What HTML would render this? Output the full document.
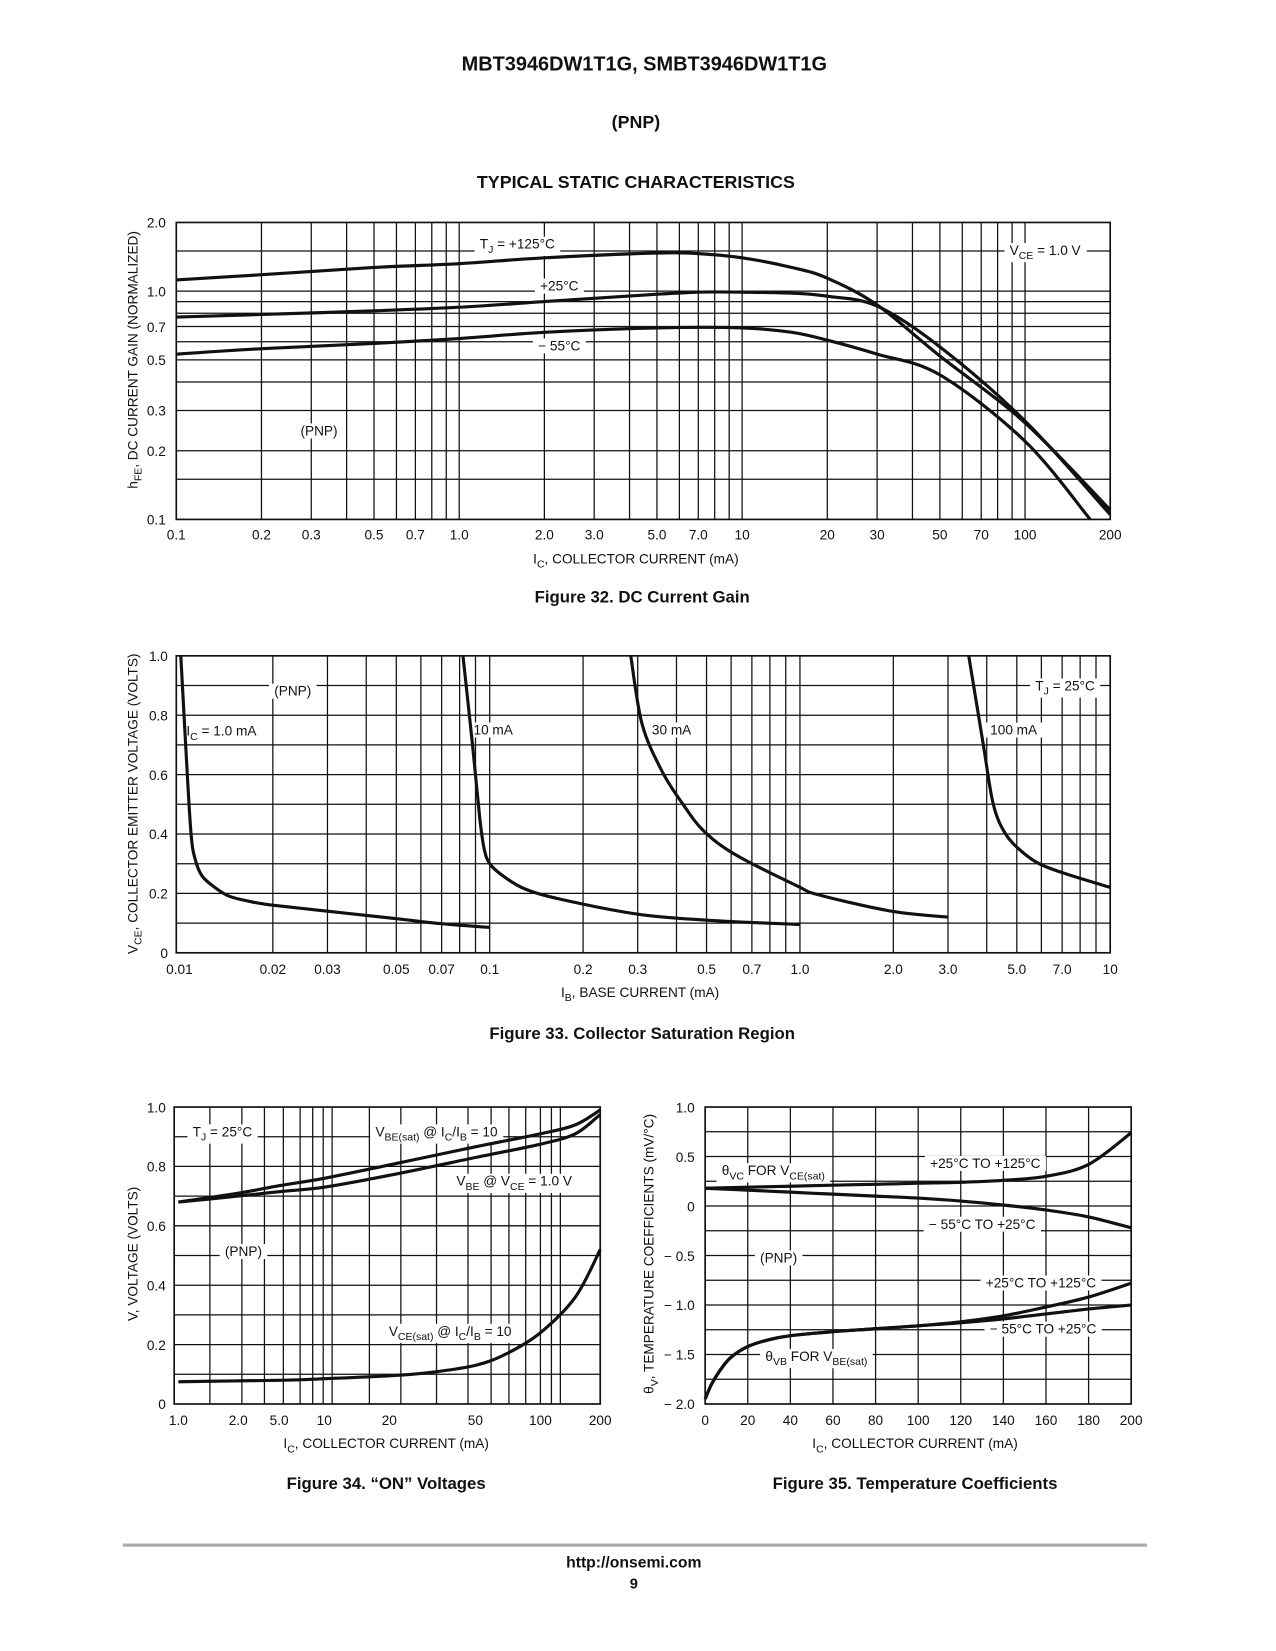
<!DOCTYPE html>
<html><head><meta charset="utf-8"><style>
html,body{margin:0;padding:0;background:#fff;}
svg{display:block;font-family:"Liberation Sans",sans-serif;}
.t{font-family:"Liberation Sans Narrow","Liberation Sans",sans-serif;font-size:13px;fill:#111;}
.b{font-weight:bold;fill:#111;}
</style></head><body>
<svg id="pg" width="1276" height="1651" viewBox="0 0 1216 1573.4" preserveAspectRatio="none">
<text class="b" x="614" y="67" text-anchor="middle" font-size="19">MBT3946DW1T1G, SMBT3946DW1T1G</text>
<text class="b" x="606" y="122" text-anchor="middle" font-size="17">(PNP)</text>
<text class="b" x="606" y="179" text-anchor="middle" font-size="17">TYPICAL STATIC CHARACTERISTICS</text>
<text class="b" x="612" y="574" text-anchor="middle" font-size="16">Figure 32. DC Current Gain</text>
<text class="b" x="612" y="990" text-anchor="middle" font-size="16">Figure 33. Collector Saturation Region</text>
<text class="b" x="368" y="1419" text-anchor="middle" font-size="16">Figure 34. “ON” Voltages</text>
<text class="b" x="872" y="1419" text-anchor="middle" font-size="16">Figure 35. Temperature Coefficients</text>
<rect x="117" y="1471" width="976" height="3" fill="#aaa"/>
<text class="b" x="604" y="1494" text-anchor="middle" font-size="15">http://onsemi.com</text>
<text class="b" x="604" y="1514" text-anchor="middle" font-size="14">9</text>
</svg>
<script>
// ---------- Figure 32 data ----------
const f32Ticks = [0.1,0.2,0.3,0.5,0.7,1.0,2.0,3.0,5.0,7.0,10,20,30,50,70,100,200];
const f32TickLabels = ["0.1","0.2","0.3","0.5","0.7","1.0","2.0","3.0","5.0","7.0","10","20","30","50","70","100","200"];
const f32YTicks = [2.0,1.0,0.7,0.5,0.3,0.2,0.1];
const f32YTickLabels = ["2.0","1.0","0.7","0.5","0.3","0.2","0.1"];
const f32YGrid = [0.15,0.2,0.3,0.4,0.5,0.6,0.7,0.8,0.9,1.0,1.5];
const f32Ic = [0.1,0.2,0.5,1,2,5,7,10,15,20,30,50,100,200];
const f32T125 = [1.12,1.18,1.27,1.32,1.40,1.47,1.46,1.40,1.27,1.14,0.87,0.52,0.265,0.11];
const f32T25 = [0.77,0.79,0.82,0.85,0.90,0.97,0.99,0.99,0.98,0.95,0.86,0.57,0.27,0.105];
const f32Ic55 = [0.1,0.2,0.5,1,2,5,10,15,20,30,50,100,170];
const f32T55 = [0.53,0.56,0.59,0.62,0.66,0.69,0.69,0.66,0.61,0.53,0.43,0.22,0.1];

// ---------- Figure 33 data ----------
const f33Ticks = [0.01,0.02,0.03,0.05,0.07,0.1,0.2,0.3,0.5,0.7,1.0,2.0,3.0,5.0,7.0,10];
const f33TickLabels = ["0.01","0.02","0.03","0.05","0.07","0.1","0.2","0.3","0.5","0.7","1.0","2.0","3.0","5.0","7.0","10"];
const f33YTicks = [1.0,0.8,0.6,0.4,0.2,0];
const f33YTickLabels = ["1.0","0.8","0.6","0.4","0.2","0"];
const f33Ib1 = [0.0101,0.0106,0.0109,0.0112,0.0118,0.013,0.0145,0.017,0.02,0.03,0.05,0.07,0.1];
const f33V1 = [1.0,0.6,0.4,0.32,0.26,0.22,0.19,0.172,0.16,0.14,0.115,0.098,0.085];
const f33Ib10 = [0.082,0.088,0.093,0.096,0.1,0.11,0.13,0.17,0.3,0.5,1.0];
const f33V10 = [1.0,0.7,0.45,0.35,0.3,0.26,0.215,0.18,0.13,0.11,0.095];
const f33Ib30 = [0.285,0.31,0.36,0.42,0.49,0.62,0.98,1.15,1.97,3.0];
const f33V30 = [1.0,0.77,0.61,0.5,0.41,0.33,0.225,0.195,0.14,0.12];
const f33Ib100 = [3.5,3.9,4.2,4.6,5.2,5.9,7,10];
const f33V100 = [1.0,0.7,0.5,0.4,0.34,0.3,0.27,0.22];

// ---------- Figure 34 data ----------
const f34Ticks = [1,2,5,10,20,50,100,200];
const f34TickLabels = ["1.0","2.0","5.0","10","20","50","100","200"];
const f34YTicks = [1.0,0.8,0.6,0.4,0.2,0];
const f34YTickLabels = ["1.0","0.8","0.6","0.4","0.2","0"];
const f34Ic = [1,2,5,10,20,50,100,150,200];
const f34VbeSat = [0.68,0.71,0.735,0.76,0.805,0.866,0.91,0.94,0.99];
const f34Vbe = [0.68,0.70,0.715,0.73,0.77,0.83,0.875,0.91,0.975];
const f34IcS = [1,5,10,20,30,50,70,100,150,200];
const f34VceSat = [0.075,0.08,0.085,0.095,0.105,0.13,0.17,0.24,0.36,0.52];

// ---------- Figure 35 data ----------
const f35Ticks = [0,20,40,60,80,100,120,140,160,180,200];
const f35TickLabels = ["0","20","40","60","80","100","120","140","160","180","200"];
const f35YTicks = [1.0,0.5,0,-0.5,-1.0,-1.5,-2.0];
const f35YTickLabels = ["1.0","0.5","0","− 0.5","− 1.0","− 1.5","− 2.0"];
const f35Ic = [0,20,40,60,80,100,120,140,160,180,200];
const f35VcHot = [0.18,0.19,0.2,0.21,0.22,0.23,0.24,0.26,0.3,0.42,0.74];
const f35VcCold = [0.18,0.16,0.14,0.12,0.1,0.08,0.05,0.01,-0.04,-0.11,-0.22];
const f35IcB = [0,3,7,12,20,30,40,60,80,100,120,140,160,180,200];
const f35VbHot = [-1.95,-1.8,-1.66,-1.53,-1.42,-1.35,-1.31,-1.27,-1.24,-1.21,-1.17,-1.11,-1.02,-0.92,-0.78];
const f35VbCold = [-1.95,-1.8,-1.66,-1.53,-1.42,-1.35,-1.31,-1.27,-1.24,-1.21,-1.18,-1.14,-1.09,-1.04,-1.0];

const NS="http://www.w3.org/2000/svg";
const pg=document.getElementById('pg');
function mk(tag,attrs,parent){const e=document.createElementNS(NS,tag);for(const k in attrs)e.setAttribute(k,attrs[k]);(parent||pg).appendChild(e);return e;}
function logS(d0,d1,p0,p1){const a=Math.log10(d0),b=Math.log10(d1);return v=>p0+(Math.log10(v)-a)/(b-a)*(p1-p0);}
function linS(d0,d1,p0,p1){return v=>p0+(v-d0)/(d1-d0)*(p1-p0);}
function pwLog(vals,px){return v=>{const l=Math.log10(v);for(let i=0;i<vals.length-1;i++){const a=Math.log10(vals[i]),b=Math.log10(vals[i+1]);if(l<=b||i===vals.length-2){return px[i]+(l-a)/(b-a)*(px[i+1]-px[i]);}}};}
function smooth(pts){let d="M"+pts[0][0].toFixed(1)+","+pts[0][1].toFixed(1);for(let i=0;i<pts.length-1;i++){const p0=pts[i-1]||pts[i],p1=pts[i],p2=pts[i+1],p3=pts[i+2]||p2;const c1=[p1[0]+(p2[0]-p0[0])/6,p1[1]+(p2[1]-p0[1])/6],c2=[p2[0]-(p3[0]-p1[0])/6,p2[1]-(p3[1]-p1[1])/6];d+="C"+c1[0].toFixed(1)+","+c1[1].toFixed(1)+" "+c2[0].toFixed(1)+","+c2[1].toFixed(1)+" "+p2[0].toFixed(1)+","+p2[1].toFixed(1);}return d;}
function curve(g,xs,ys,sx,sy,name){const pts=xs.map((x,i)=>[sx(x),sy(ys[i])]);const p=mk('path',{d:smooth(pts),fill:'none',stroke:'#111','stroke-width':3,'stroke-linejoin':'round'},g);


return p;}
function vline(g,x,y0,y1){const l=mk('line',{x1:x,x2:x,y1:y0,y2:y1,stroke:'#111','stroke-width':1.2},g);

}
function hline(g,y,x0,x1){const l=mk('line',{x1:x0,x2:x1,y1:y,y2:y,stroke:'#111','stroke-width':1.2},g);

}
function txt(g,x,y,html,anchor,name,size){const t=mk('text',{x:x,y:y,'text-anchor':anchor||'middle',class:'t'},g);if(size)t.setAttribute('font-size',size);t.innerHTML=html;


return t;}
function boxed(g,x,y,html,name){const t=txt(g,x,y,html,'middle',name);const bb=t.getBBox();const r=mk('rect',{x:bb.x-5,y:bb.y,width:bb.width+10,height:bb.height,fill:'#fff'},g);


g.insertBefore(r,t);return t;}
function frame(g,x0,y0,x1,y1){const r=mk('rect',{x:x0,y:y0,width:x1-x0,height:y1-y0,fill:'none',stroke:'#111','stroke-width':1.6},g);

}
function group(name){const g=mk('g',{});


return g;}
const sub=s=>'<tspan font-size="10" dy="4">'+s+'</tspan><tspan dy="-4">\u200B</tspan>';

// ===== Figure 32 =====
(function(){const g=group('figure-32-chart');const X0=168,X1=1058,Y0=212,Y1=495;
const sx=logS(0.1,200,X0,X1),sy=logS(0.1,2.0,Y1,Y0);
[0.1,1,10,100].forEach(d=>{for(let m=1;m<10;m++){const v=d*m;if(v>0.1&&v<200)vline(g,sx(v),Y0,Y1);}});
f32YGrid.forEach(v=>hline(g,sy(v),X0,X1));
frame(g,X0,Y0,X1,Y1);
f32Ticks.forEach((v,i)=>txt(g,sx(v),514,f32TickLabels[i],'middle','x-tick-label'));
f32YTicks.forEach((v,i)=>txt(g,158,sy(v)+5,f32YTickLabels[i],'end','y-tick-label'));
boxed(g,493,237,'T'+sub('J')+' = +125°C','label-125c');
boxed(g,533,277,'+25°C','label-25c');
boxed(g,533,334,'− 55°C','label-minus55c');
boxed(g,996,243,'V'+sub('CE')+' = 1.0 V','label-vce');
boxed(g,304,415,'(PNP)','label-pnp');
curve(g,f32Ic,f32T125,sx,sy,'curve-125c');
curve(g,f32Ic,f32T25,sx,sy,'curve-25c');
curve(g,f32Ic55,f32T55,sx,sy,'curve-minus55c');
txt(g,606,537,'I'+sub('C')+', COLLECTOR CURRENT (mA)','middle','x-axis-title',13);
const yt=txt(g,0,0,'h'+sub('FE')+', DC CURRENT GAIN (NORMALIZED)','middle','y-axis-title',13);yt.setAttribute('transform','translate(131,343) rotate(-90)');})();

// ===== Figure 33 =====
(function(){const g=group('figure-33-chart');const X0=168,X1=1058,Y0=625,Y1=908;
const sx=logS(0.01,10,X0+3,X1),sy=linS(0,1,Y1,Y0);
[0.01,0.1,1].forEach(d=>{for(let m=1;m<10;m++){const v=d*m;if(v>0.01&&v<10)vline(g,sx(v),Y0,Y1);}});
for(let k=1;k<10;k++)hline(g,sy(k/10),X0,X1);
frame(g,X0,Y0,X1,Y1);
f33Ticks.forEach((v,i)=>txt(g,sx(v),928,f33TickLabels[i],'middle','x-tick-label'));
f33YTicks.forEach((v,i)=>txt(g,160,sy(v)+5,f33YTickLabels[i],'end','y-tick-label'));
boxed(g,279,663,'(PNP)','label-pnp');
boxed(g,211,701,'I'+sub('C')+' = 1.0 mA','label-1ma');
boxed(g,470,700,'10 mA','label-10ma');
boxed(g,640,700,'30 mA','label-30ma');
boxed(g,966,700,'100 mA','label-100ma');
boxed(g,1015,658,'T'+sub('J')+' = 25°C','label-tj');
curve(g,f33Ib1,f33V1,sx,sy,'curve-1ma');
curve(g,f33Ib10,f33V10,sx,sy,'curve-10ma');
curve(g,f33Ib30,f33V30,sx,sy,'curve-30ma');
curve(g,f33Ib100,f33V100,sx,sy,'curve-100ma');
txt(g,610,950,'I'+sub('B')+', BASE CURRENT (mA)','middle','x-axis-title',13);
const yt=txt(g,0,0,'V'+sub('CE')+', COLLECTOR EMITTER VOLTAGE (VOLTS)','middle','y-axis-title',13);yt.setAttribute('transform','translate(131,766) rotate(-90)');})();

// ===== Figure 34 =====
(function(){const g=group('figure-34-chart');const X0=166,X1=572,Y0=1055,Y1=1338;
const sx=pwLog(f34Ticks,[170,227,266,309,371,453,515,572]),sy=linS(0,1,Y1,Y0);
const gridPx=[200,230.5,252,270,286,298,308,316.5,352,382,416,446,468,485,501,515,525.5,534];
gridPx.forEach(x=>vline(g,x,Y0,Y1));
for(let k=1;k<10;k++)hline(g,sy(k/10),X0,X1);
frame(g,X0,Y0,X1,Y1);
f34Ticks.forEach((v,i)=>txt(g,sx(v),1358,f34TickLabels[i],'middle','x-tick-label'));
f34YTicks.forEach((v,i)=>txt(g,158,sy(v)+5,f34YTickLabels[i],'end','y-tick-label'));
boxed(g,212,1083,'T'+sub('J')+' = 25°C','label-tj');
boxed(g,416,1083,'V'+sub('BE(sat)')+' @ I'+sub('C')+'/I'+sub('B')+' = 10','label-vbesat');
boxed(g,490,1130,'V'+sub('BE')+' @ V'+sub('CE')+' = 1.0 V','label-vbe');
boxed(g,232,1197,'(PNP)','label-pnp');
boxed(g,429,1273,'V'+sub('CE(sat)')+' @ I'+sub('C')+'/I'+sub('B')+' = 10','label-vcesat');
curve(g,f34Ic,f34VbeSat,sx,sy,'curve-vbe-sat');
curve(g,f34Ic,f34Vbe,sx,sy,'curve-vbe');
curve(g,f34IcS,f34VceSat,sx,sy,'curve-vce-sat');
txt(g,368,1380,'I'+sub('C')+', COLLECTOR CURRENT (mA)','middle','x-axis-title',13);
const yt=txt(g,0,0,'V, VOLTAGE (VOLTS)','middle','y-axis-title',13);yt.setAttribute('transform','translate(131,1195) rotate(-90)');})();

// ===== Figure 35 =====
(function(){const g=group('figure-35-chart');const X0=672,X1=1078,Y0=1055,Y1=1338;
const sx=linS(0,200,X0,X1),sy=linS(-2,1,Y1,Y0);
for(let v=20;v<200;v+=20)vline(g,sx(v),Y0,Y1);
for(let v=-1.75;v<1;v+=0.25)hline(g,sy(v),X0,X1);
frame(g,X0,Y0,X1,Y1);
f35Ticks.forEach((v,i)=>txt(g,sx(v),1358,f35TickLabels[i],'middle','x-tick-label'));
f35YTicks.forEach((v,i)=>txt(g,662,sy(v)+5,f35YTickLabels[i],'end','y-tick-label'));
boxed(g,737,1120,'θ'+sub('VC')+' FOR V'+sub('CE(sat)'),'label-theta-vc');
boxed(g,939,1113,'+25°C TO +125°C','label-vc-hot');
boxed(g,936,1171,'− 55°C TO +25°C','label-vc-cold');
boxed(g,742,1203,'(PNP)','label-pnp');
boxed(g,992,1227,'+25°C TO +125°C','label-vb-hot');
boxed(g,994,1271,'− 55°C TO +25°C','label-vb-cold');
boxed(g,778,1297,'θ'+sub('VB')+' FOR V'+sub('BE(sat)'),'label-theta-vb');
curve(g,f35Ic,f35VcHot,sx,sy,'curve-vc-hot');
curve(g,f35Ic,f35VcCold,sx,sy,'curve-vc-cold');
curve(g,f35IcB,f35VbHot,sx,sy,'curve-vb-hot');
curve(g,f35IcB,f35VbCold,sx,sy,'curve-vb-cold');
txt(g,872,1380,'I'+sub('C')+', COLLECTOR CURRENT (mA)','middle','x-axis-title',13);
const yt=txt(g,0,0,'θ'+sub('V')+', TEMPERATURE COEFFICIENTS (mV/°C)','middle','y-axis-title',13);yt.setAttribute('transform','translate(623,1195) rotate(-90)');})();
</script>
</body></html>
